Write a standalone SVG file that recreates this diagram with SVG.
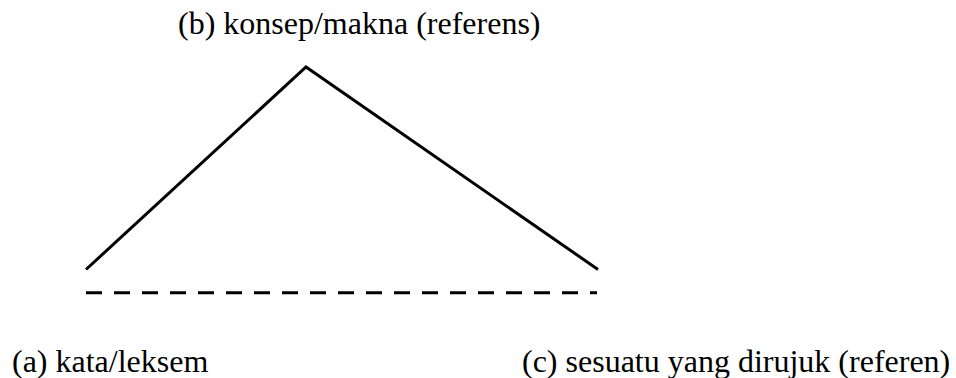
<svg xmlns="http://www.w3.org/2000/svg" width="956" height="378" viewBox="0 0 956 378">
<style>
text { font-family: "Liberation Serif", "Times New Roman", serif; font-size: 32px; fill: #000; }
.edge { stroke: #000; stroke-width: 3; fill: none; }
.dash { stroke-dasharray: 16 12; }
</style>
<rect width="956" height="378" fill="#fff"/>
<g id="connectors">
<polyline class="edge" points="86,269.5 306,67 598,269.5"/>
<line class="edge dash" x1="86" y1="292.7" x2="597" y2="292.7"/>
</g>
<g id="node-b"><text x="178" y="34">(b) konsep/makna (referens)</text></g>
<g id="node-a"><text x="12" y="372">(a) kata/leksem</text></g>
<g id="node-c"><text x="522" y="372">(c) sesuatu yang dirujuk (referen)</text></g>
</svg>
